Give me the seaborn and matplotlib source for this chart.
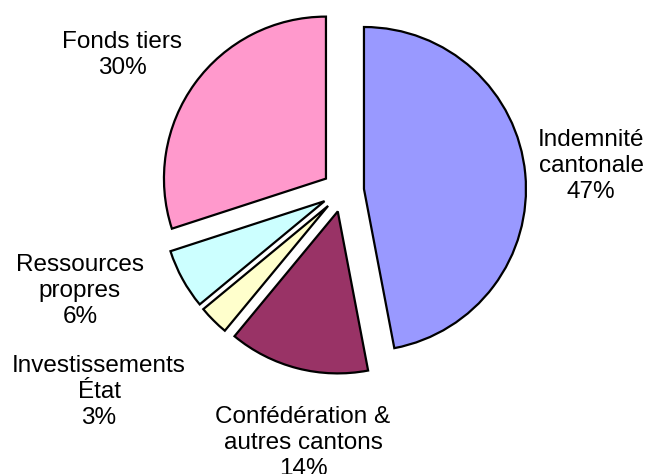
import matplotlib
matplotlib.use("Agg")
import matplotlib.pyplot as plt
import seaborn as sns

categories = ["Indemnité\ncantonale", "Confédération &\nautres cantons",
              "Investissements\nÉtat", "Ressources\npropres", "Fonds tiers"]
values = [47, 14, 3, 6, 30]
colors = ["#9999FF", "#993366", "#FFFFCC", "#CCFFFF", "#FF99CC"]

sns.set_style("white")
plt.rcParams["font.family"] = ["Liberation Sans", "DejaVu Sans"]

W, H = 646, 474
R = 162.0
cx, cy = 343.0, 191.0  # pixel centre (from top)

fig = plt.figure(figsize=(W / 100, H / 100), dpi=100)
ax = fig.add_axes([0, 0, 1, 1])
ax.pie(values, colors=colors, startangle=90, counterclock=False,
       explode=[0.13] * len(values), radius=1.0,
       wedgeprops=dict(edgecolor="black", linewidth=1.6))
ax.set_aspect("auto")
ax.set_xlim(-cx / R, (W - cx) / R)
ax.set_ylim(-(H - cy) / R, cy / R)
ax.axis("off")

label_pos = [(591, 166), (303, 443), (99, 392), (80, 291), (122, 55)]
for cat, v, (px, py) in zip(categories, values, label_pos):
    ax.text(px / W, 1 - py / H, f"{cat}\n{v}%", transform=ax.transAxes,
            ha="center", va="center", fontsize=17.5, linespacing=1.25,
            color="black")

fig.savefig("out.png", dpi=100)
